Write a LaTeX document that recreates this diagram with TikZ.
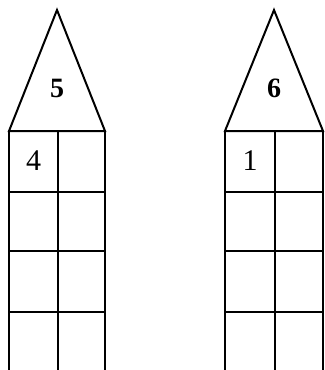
\documentclass[tikz,border=0pt]{standalone}
\usepackage{fontspec}
\setmainfont{Liberation Serif}
\usetikzlibrary{positioning}
\tikzset{
  houseline/.style={line width=1pt,black},
  roofnum/.style={font=\fontsize{14}{16}\selectfont\bfseries},
  cellnum/.style={font=\fontsize{15}{17}\selectfont}
}
\begin{document}
\begin{tikzpicture}[x=0.5pt,y=-0.5pt]
  \useasboundingbox (0,0) rectangle (325,370);
  % two houses: roof triangle and an open grid of 2 columns
  \foreach \xl/\xm/\xr/\roofval/\cellval/\hname in {9/58/105/5/4/left, 225/275/323/6/1/right} {
    \draw[houseline] (\xl,131) -- ({(\xl+\xr)/2},10) -- (\xr,131) -- cycle;
    \draw[houseline] (\xl,370) -- (\xl,131) -- (\xr,131) -- (\xr,370);
    \draw[houseline] (\xm,131) -- (\xm,370);
    \foreach \y in {192,251,312} \draw[houseline] (\xl,\y) -- (\xr,\y);
    \node[roofnum] (\hname roof) at ({(\xl+\xr)/2},88) {\roofval};
    \node[cellnum] (\hname cell) at ({(\xl+\xm)/2},161) {\cellval};
  }
\end{tikzpicture}
\end{document}
